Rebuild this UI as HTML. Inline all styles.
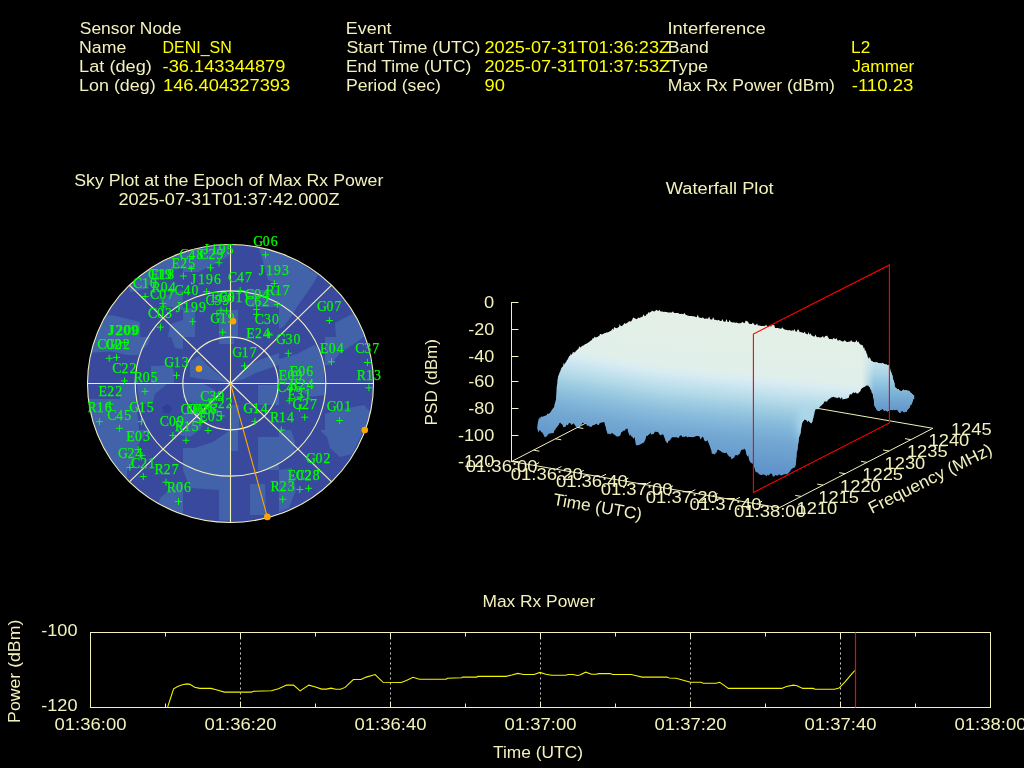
<!DOCTYPE html>
<html><head><meta charset="utf-8"><style>
html,body{margin:0;padding:0;background:#000;width:1024px;height:768px;overflow:hidden}
svg{display:block;will-change:transform}
text{font-family:"Liberation Sans",sans-serif}
.sl{font-family:"Liberation Serif",serif;font-size:13.75px;fill:#00ff00;stroke:#00ff00;stroke-width:0.25px}
</style></head><body>
<svg width="1024" height="768" viewBox="0 0 1024 768">
<rect width="1024" height="768" fill="#000"/>
<ellipse cx="230.5" cy="383.5" rx="143" ry="139" fill="#38499e"/>
<clipPath id="skyclip"><ellipse cx="230.5" cy="383.5" rx="143" ry="139"/></clipPath><g clip-path="url(#skyclip)" fill="#4262aa"><path d="M128,282 140,272 160,258 183,247 183,268 170,271 155,282 142,290 130,292Z"/><path d="M88,318 100,314 116,316 140,322 140,337 88,337Z"/><path d="M158,298 183,290 183,310 165,306Z"/><path d="M170,324 183,320 183,337 168,337Z"/><path d="M183,250 229,246 229,256 213,265 198,272 183,272Z"/><path d="M259,248 263,262 268,280 279,284 279,250Z"/><path d="M219,310 238,310 238,337 219,337Z"/><path d="M183,308 195,308 195,337 183,337Z"/><path d="M243,290 279,290 279,307 250,307Z"/><path d="M279,250 318,275 313,284 297,307 291,317 284,326 279,329Z"/><path d="M352,314 335,323 336,337 372,337 372,310Z"/><path d="M87,337 150,337 148,344 138,355 127,355 111,351.5 87,353Z"/><path d="M171,337 183,337 183,349 175,348Z"/><path d="M151,366 172,365 174,372 174,383 151,383Z"/><path d="M120,384 136,384 136,399 120,399Z"/><path d="M87,399 123,399 136,398 139,430 87,430Z"/><path d="M137,384 167,384 155,394 153,402 140,405Z"/><path d="M190,361 199,356 207,365 222,377 229,383 219,381 201,379 190,377Z"/><path d="M231,383 241,371 256,361 279,353 279,365 256,373 244,379Z"/><path d="M183,384 204,384 213,389 222,397 213,405 195,405 183,398Z"/><path d="M231,405 239,405 239,430 231,430Z"/><path d="M258,385 279,385 279,405 258,405Z"/><path d="M219,337 234,337 234,344 219,344Z"/><path d="M279,359 297,354 314,345 320,349 324,367 324,383 279,383Z"/><path d="M325,337 364,337 354,344 340,353 330,365 325,365Z"/><path d="M302,384 325,384 325,395 310,397 302,392Z"/><path d="M325,414 337,410 364,405 372,414 372,432 325,432Z"/><path d="M176,418 190,410 204,416 201,429 190,437 178,435Z"/><path d="M96,430 148,430 138,445 135,462 127,470 127,479 100,479 88,440Z"/><path d="M160,498 172,488 183,481 183,523 150,523Z"/><path d="M183,448 195,448 213,442 223,435 230,430 230,521 219,520 219,490 190,488 183,470Z"/><path d="M231,430 238,430 238,451 231,451Z"/><path d="M250,484 265,484 266,515 250,515Z"/><path d="M258,437 279,437 279,470 258,470Z"/><path d="M320,430 364,430 352,454 340,457 330,448 327,437Z"/><path d="M279,430 291,430 295,442 294,454 279,462Z"/><path d="M279,470 292,468 296,490 289,508 279,512Z"/><path fill="#303f96" d="M162,407 L168,404 L172,408 L170,413 L164,413Z"/></g>
<ellipse cx="230.5" cy="383.5" rx="47.67" ry="46.33" fill="none" stroke="#f3f1bc" stroke-width="1.1"/>
<ellipse cx="230.5" cy="383.5" rx="95.33" ry="92.67" fill="none" stroke="#f3f1bc" stroke-width="1.1"/>
<ellipse cx="230.5" cy="383.5" rx="143.00" ry="139.00" fill="none" stroke="#f3f1bc" stroke-width="1.1"/>
<line x1="230.5" y1="383.5" x2="373.50" y2="383.50" stroke="#f3f1bc" stroke-width="1.1"/>
<line x1="230.5" y1="383.5" x2="331.62" y2="285.21" stroke="#f3f1bc" stroke-width="1.1"/>
<line x1="230.5" y1="383.5" x2="230.50" y2="244.50" stroke="#f3f1bc" stroke-width="1.1"/>
<line x1="230.5" y1="383.5" x2="129.38" y2="285.21" stroke="#f3f1bc" stroke-width="1.1"/>
<line x1="230.5" y1="383.5" x2="87.50" y2="383.50" stroke="#f3f1bc" stroke-width="1.1"/>
<line x1="230.5" y1="383.5" x2="129.38" y2="481.79" stroke="#f3f1bc" stroke-width="1.1"/>
<line x1="230.5" y1="383.5" x2="230.50" y2="522.50" stroke="#f3f1bc" stroke-width="1.1"/>
<line x1="230.5" y1="383.5" x2="331.62" y2="481.79" stroke="#f3f1bc" stroke-width="1.1"/>
<text x="203.61 210.85 218.85 226.85" y="253.5" class="sl">J195</text>
<text x="179.44 188.58 196.58" y="258.9" class="sl">C48</text>
<text x="199.24 208.38 216.38" y="258.9" class="sl">C29</text>
<text x="171.40 180.17 188.17" y="267.8" class="sl">E25</text>
<text x="147.94 157.08 165.08" y="279.4" class="sl">C19</text>
<text x="150.60 159.37 167.37" y="279.4" class="sl">E18</text>
<text x="190.71 197.95 205.95 213.95" y="283.5" class="sl">J196</text>
<text x="227.94 237.08 245.08" y="281.5" class="sl">C47</text>
<text x="132.94 142.08 150.08" y="287.6" class="sl">C10</text>
<text x="151.60 160.75 168.75" y="292.4" class="sl">R04</text>
<text x="174.44 183.58 191.58" y="295.2" class="sl">C40</text>
<text x="150.04 159.18 167.18" y="298.6" class="sl">C07</text>
<text x="147.94 157.08 165.08" y="318.4" class="sl">C03</text>
<text x="175.71 182.95 190.95 198.95" y="311.6" class="sl">J199</text>
<text x="211.00 219.77 227.77" y="302" class="sl">E60</text>
<text x="218.44 227.58 235.58" y="302" class="sl">C61</text>
<text x="205.44 214.58 222.58" y="305.4" class="sl">C59</text>
<text x="253.24 262.76 270.76" y="245.7" class="sl">G06</text>
<text x="258.71 265.95 273.95 281.95" y="274.7" class="sl">J193</text>
<text x="265.70 274.85 282.85" y="295.2" class="sl">R17</text>
<text x="245.04 254.18 262.18" y="299.3" class="sl">C04</text>
<text x="245.04 254.18 262.18" y="306.1" class="sl">C62</text>
<text x="210.14 219.66 227.66" y="323.4" class="sl">G19</text>
<text x="108.11 115.35 123.35 131.35" y="335.2" class="sl">J209</text>
<text x="109.11 116.35 124.35 132.35" y="335.2" class="sl">J200</text>
<text x="97.34 106.48 114.48" y="349.1" class="sl">C02</text>
<text x="105.44 114.96 122.96" y="349.1" class="sl">G02</text>
<text x="112.24 121.38 129.38" y="372.5" class="sl">C22</text>
<text x="133.70 142.85 150.85" y="382" class="sl">R05</text>
<text x="164.24 173.76 181.76" y="366.6" class="sl">G13</text>
<text x="317.04 326.56 334.56" y="311.2" class="sl">G07</text>
<text x="254.84 263.98 271.98" y="324.4" class="sl">C30</text>
<text x="246.20 254.97 262.97" y="338.3" class="sl">E24</text>
<text x="276.04 285.56 293.56" y="344.2" class="sl">G30</text>
<text x="319.90 328.67 336.67" y="352.7" class="sl">E04</text>
<text x="355.14 364.28 372.28" y="353.3" class="sl">C37</text>
<text x="356.80 365.95 373.95" y="380.1" class="sl">R13</text>
<text x="232.24 241.76 249.76" y="356.6" class="sl">G17</text>
<text x="289.40 298.17 306.17" y="375.7" class="sl">E06</text>
<text x="278.70 287.47 295.47" y="380.3" class="sl">E09</text>
<text x="289.60 298.75 306.75" y="388.7" class="sl">R24</text>
<text x="277.04 286.18 294.18" y="392" class="sl">C46</text>
<text x="287.50 296.27 304.27" y="398.6" class="sl">E31</text>
<text x="292.44 301.96 309.96" y="408.8" class="sl">G27</text>
<text x="243.34 252.86 260.86" y="412.5" class="sl">G14</text>
<text x="269.90 279.05 287.05" y="421.6" class="sl">R14</text>
<text x="326.84 336.36 344.36" y="411.3" class="sl">G01</text>
<text x="305.94 315.46 323.46" y="462.5" class="sl">G02</text>
<text x="287.70 296.47 304.47" y="479.8" class="sl">E02</text>
<text x="295.64 304.78 312.78" y="479.8" class="sl">C28</text>
<text x="270.60 279.75 287.75" y="490.5" class="sl">R23</text>
<text x="98.50 107.27 115.27" y="396.4" class="sl">E22</text>
<text x="87.50 96.65 104.65" y="412.2" class="sl">R16</text>
<text x="129.14 138.66 146.66" y="412.2" class="sl">G15</text>
<text x="107.14 116.28 124.28" y="419.5" class="sl">C45</text>
<text x="200.14 209.28 217.28" y="401.2" class="sl">C39</text>
<text x="208.24 217.76 225.76" y="407.8" class="sl">G22</text>
<text x="180.44 189.58 197.58" y="414" class="sl">C06</text>
<text x="186.44 195.58 203.58" y="414" class="sl">C08</text>
<text x="192.44 201.58 209.58" y="414" class="sl">C26</text>
<text x="198.90 207.67 215.67" y="421" class="sl">E05</text>
<text x="159.84 168.98 176.98" y="426.1" class="sl">C09</text>
<text x="174.70 183.85 191.85" y="431.3" class="sl">R15</text>
<text x="126.30 135.07 143.07" y="441.2" class="sl">E03</text>
<text x="117.94 127.46 135.46" y="458.3" class="sl">G24</text>
<text x="131.04 140.18 148.18" y="467.5" class="sl">C21</text>
<text x="154.60 163.75 171.75" y="473.7" class="sl">R27</text>
<text x="166.80 175.95 183.95" y="492" class="sl">R06</text>
<path d="M215.5 262.8h7M219.0 259.3v7M207.0 267.8h7M210.5 264.3v7M187.8 268.5h7M191.3 265.0v7M179.9 276.0h7M183.4 272.5v7M167.5 290.8h7M171.0 287.3v7M203.1 291.7h7M206.6 288.2v7M141.6 296.5h7M145.1 293.0v7M159.4 303.4h7M162.9 299.9v7M159.7 306.8h7M163.2 303.3v7M262.0 254.8h7M265.5 251.3v7M270.8 283.5h7M274.3 280.0v7M236.7 290.4h7M240.2 286.9v7M273.8 304.7h7M277.3 301.2v7M253.1 309.5h7M256.6 306.0v7M253.1 314.3h7M256.6 310.8v7M217.5 310.2h7M221.0 306.7v7M223.0 310.9h7M226.5 307.4v7M213.4 313.6h7M216.9 310.1v7M156.9 327.1h7M160.4 323.6v7M189.2 321.7h7M192.7 318.2v7M173.0 375.4h7M176.5 371.9v7M219.2 332.2h7M222.7 328.7v7M121.0 342.5h7M124.5 339.0v7M105.7 358.3h7M109.2 354.8v7M113.0 357.4h7M116.5 353.9v7M121.0 380.9h7M124.5 377.4v7M325.9 320.5h7M329.4 317.0v7M265.1 334.0h7M268.6 330.5v7M266.1 335.0h7M269.6 331.5v7M284.8 353.3h7M288.3 349.8v7M328.0 361.8h7M331.5 358.3v7M363.9 362.5h7M367.4 359.0v7M365.4 387.8h7M368.9 384.3v7M241.0 365.9h7M244.5 362.4v7M285.8 400.8h7M289.3 397.3v7M296.1 408.4h7M299.6 404.9v7M301.2 417.2h7M304.7 413.7v7M297.5 397.1h7M301.0 393.6v7M251.4 421.3h7M254.9 417.8v7M277.8 430.0h7M281.3 426.5v7M336.1 420.5h7M339.6 417.0v7M314.3 470.8h7M317.8 467.3v7M296.3 489.5h7M299.8 486.0v7M305.1 488.3h7M308.6 484.8v7M279.2 499.3h7M282.7 495.8v7M141.5 391.4h7M145.0 387.9v7M106.4 404.2h7M109.9 400.7v7M95.9 421.7h7M99.4 418.2v7M115.9 428.3h7M119.4 424.8v7M137.9 421.7h7M141.4 418.2v7M210.4 410.0h7M213.9 406.5v7M217.7 415.9h7M221.2 412.4v7M169.4 435.4h7M172.9 431.9v7M182.6 440.3h7M186.1 436.8v7M204.5 430.5h7M208.0 427.0v7M196.5 422.5h7M200.0 419.0v7M134.7 449.5h7M138.2 446.0v7M138.4 455.4h7M141.9 451.9v7M126.4 467.5h7M129.9 464.0v7M139.8 476.6h7M143.3 473.1v7M162.5 482.2h7M166.0 478.7v7M175.0 501.5h7M178.5 498.0v7" stroke="#00ff00" stroke-width="1" fill="none"/>
<circle cx="290.8" cy="389" r="2.2" fill="#00ff00"/>
<line x1="230.5" y1="383.5" x2="267.3" y2="516.9" stroke="#ffa500" stroke-width="1.1"/>
<circle cx="233" cy="321.2" r="3.3" fill="#ffa500"/>
<circle cx="199" cy="368.8" r="3.3" fill="#ffa500"/>
<circle cx="364.8" cy="430" r="3.3" fill="#ffa500"/>
<circle cx="267.3" cy="516.9" r="3.3" fill="#ffa500"/>
<line x1="511.5" y1="461.5" x2="665.2" y2="382.0" stroke="#f3f1bc" stroke-width="1"/>
<line x1="932.9" y1="428.3" x2="665.2" y2="382.0" stroke="#f3f1bc" stroke-width="1"/>
<line x1="533.5" y1="450.1" x2="539.4" y2="451.2" stroke="#f3f1bc" stroke-width="1"/>
<line x1="801.2" y1="496.4" x2="795.2" y2="495.4" stroke="#f3f1bc" stroke-width="1"/>
<line x1="555.4" y1="438.8" x2="561.3" y2="439.8" stroke="#f3f1bc" stroke-width="1"/>
<line x1="823.1" y1="485.1" x2="817.2" y2="484.1" stroke="#f3f1bc" stroke-width="1"/>
<line x1="577.4" y1="427.4" x2="583.3" y2="428.5" stroke="#f3f1bc" stroke-width="1"/>
<line x1="845.1" y1="473.7" x2="839.2" y2="472.7" stroke="#f3f1bc" stroke-width="1"/>
<line x1="599.3" y1="416.1" x2="605.2" y2="417.1" stroke="#f3f1bc" stroke-width="1"/>
<line x1="867.0" y1="462.4" x2="861.1" y2="461.3" stroke="#f3f1bc" stroke-width="1"/>
<line x1="621.3" y1="404.7" x2="627.2" y2="405.7" stroke="#f3f1bc" stroke-width="1"/>
<line x1="889.0" y1="451.0" x2="883.1" y2="450.0" stroke="#f3f1bc" stroke-width="1"/>
<line x1="643.2" y1="393.4" x2="649.2" y2="394.4" stroke="#f3f1bc" stroke-width="1"/>
<line x1="910.9" y1="439.7" x2="905.0" y2="438.6" stroke="#f3f1bc" stroke-width="1"/>
<line x1="533.8" y1="465.4" x2="539.1" y2="462.6" stroke="#f3f1bc" stroke-width="1"/>
<line x1="556.1" y1="469.2" x2="561.4" y2="466.5" stroke="#f3f1bc" stroke-width="1"/>
<line x1="578.4" y1="473.1" x2="583.8" y2="470.3" stroke="#f3f1bc" stroke-width="1"/>
<line x1="600.7" y1="476.9" x2="606.1" y2="474.2" stroke="#f3f1bc" stroke-width="1"/>
<line x1="623.0" y1="480.8" x2="628.4" y2="478.0" stroke="#f3f1bc" stroke-width="1"/>
<line x1="645.4" y1="484.6" x2="650.7" y2="481.9" stroke="#f3f1bc" stroke-width="1"/>
<line x1="667.7" y1="488.5" x2="673.0" y2="485.8" stroke="#f3f1bc" stroke-width="1"/>
<line x1="690.0" y1="492.4" x2="695.3" y2="489.6" stroke="#f3f1bc" stroke-width="1"/>
<line x1="712.3" y1="496.2" x2="717.6" y2="493.5" stroke="#f3f1bc" stroke-width="1"/>
<line x1="734.6" y1="500.1" x2="739.9" y2="497.3" stroke="#f3f1bc" stroke-width="1"/>
<line x1="756.9" y1="503.9" x2="762.2" y2="501.2" stroke="#f3f1bc" stroke-width="1"/>
<defs><linearGradient id="wb0" gradientUnits="userSpaceOnUse" x1="520.00" y1="286.00" x2="489.19" y2="465.72"><stop offset="0.000" stop-color="#e4f0e6"/><stop offset="0.297" stop-color="#e0efea"/><stop offset="0.335" stop-color="#d8ecf2"/><stop offset="0.378" stop-color="#c8e4f0"/><stop offset="0.432" stop-color="#b4dae8"/><stop offset="0.486" stop-color="#9ecce2"/><stop offset="0.541" stop-color="#8cbedc"/><stop offset="0.595" stop-color="#7eb2d8"/><stop offset="0.649" stop-color="#74a8d2"/><stop offset="0.730" stop-color="#6a9ece"/><stop offset="0.811" stop-color="#6094ca"/><stop offset="0.908" stop-color="#5a8ec6"/><stop offset="1.000" stop-color="#5488c2"/></linearGradient><linearGradient id="wb1" gradientUnits="userSpaceOnUse" x1="660.00" y1="310.00" x2="642.35" y2="493.30"><stop offset="0.000" stop-color="#e4f0e6"/><stop offset="0.297" stop-color="#e0efea"/><stop offset="0.335" stop-color="#d8ecf2"/><stop offset="0.378" stop-color="#c8e4f0"/><stop offset="0.432" stop-color="#b4dae8"/><stop offset="0.486" stop-color="#9ecce2"/><stop offset="0.541" stop-color="#8cbedc"/><stop offset="0.595" stop-color="#7eb2d8"/><stop offset="0.649" stop-color="#74a8d2"/><stop offset="0.730" stop-color="#6a9ece"/><stop offset="0.811" stop-color="#6094ca"/><stop offset="0.908" stop-color="#5a8ec6"/><stop offset="1.000" stop-color="#5488c2"/></linearGradient><linearGradient id="tailg" gradientUnits="userSpaceOnUse" x1="0" y1="355" x2="0" y2="410"><stop offset="0.000" stop-color="#cce8f0"/><stop offset="0.309" stop-color="#aed6e8"/><stop offset="0.564" stop-color="#8cc0de"/><stop offset="0.764" stop-color="#76acd4"/><stop offset="1.000" stop-color="#6498cc"/></linearGradient><linearGradient id="tailm" gradientUnits="userSpaceOnUse" x1="862" y1="0" x2="874" y2="0"><stop offset="0" stop-color="#fff" stop-opacity="0"/><stop offset="1" stop-color="#fff" stop-opacity="1"/></linearGradient><mask id="tailmask"><rect x="850" y="330" width="80" height="100" fill="url(#tailm)"/></mask><clipPath id="wfclip"><path d="M537.3,425.9 537.5,425.9 537.6,424.4 537.8,423.7 538.0,420.7 538.1,421.6 538.3,420.8 539.1,417.3 539.9,418.9 540.7,417.1 541.5,416.6 542.5,416.7 543.6,416.3 544.6,415.9 545.7,415.4 546.7,415.1 547.5,413.4 548.3,414.0 549.2,413.3 550.0,413.0 550.8,411.6 551.3,411.1 551.9,409.7 552.4,409.3 552.9,408.6 553.5,407.8 554.0,407.3 554.3,406.2 554.6,403.4 554.9,404.1 555.1,402.8 555.4,401.2 555.7,400.7 556.0,399.5 556.1,397.4 556.1,397.6 556.2,394.1 556.2,395.3 556.3,394.4 556.4,392.5 556.4,392.1 556.5,391.6 556.5,390.3 556.6,389.3 556.6,388.1 556.7,387.5 556.8,386.1 557.0,385.2 557.1,384.2 557.3,383.3 557.4,381.9 557.5,378.8 557.7,380.0 557.8,377.9 558.0,378.0 558.1,375.8 558.5,375.7 558.9,374.6 559.3,373.5 559.7,371.9 560.1,371.7 560.5,370.4 560.9,369.5 561.3,368.3 561.9,367.3 562.5,366.9 563.2,365.7 563.8,362.6 564.4,364.4 565.0,363.4 565.6,362.4 566.2,361.7 566.7,360.4 567.3,359.9 567.9,358.7 568.5,357.8 569.2,355.9 570.0,356.0 570.8,353.5 571.5,354.9 572.2,354.0 573.0,351.8 573.8,352.6 574.5,352.4 575.3,351.7 576.1,351.0 576.9,350.1 577.7,349.3 578.4,348.9 579.2,346.0 580.0,347.6 580.9,347.2 581.8,346.2 582.8,345.6 583.7,345.5 584.6,344.6 585.5,344.1 586.5,343.8 587.4,343.1 588.3,342.5 589.2,342.0 590.1,341.1 591.0,340.6 591.9,340.0 592.8,338.0 593.7,338.6 594.6,336.5 595.5,337.6 596.4,337.2 597.4,336.9 598.3,336.2 599.2,336.0 600.1,334.1 601.1,333.9 602.0,334.7 602.9,333.8 603.8,333.8 604.8,333.1 605.7,333.1 606.7,332.3 607.6,332.5 608.6,332.0 609.5,331.6 610.5,330.9 611.4,330.6 612.4,328.6 613.3,330.0 614.2,326.9 615.2,327.8 616.1,328.3 617.0,327.9 618.0,327.5 618.9,326.9 619.8,323.9 620.8,326.3 621.7,325.9 622.6,325.4 623.5,324.4 624.5,323.0 625.4,323.8 626.3,323.5 627.2,322.7 628.2,322.3 629.1,321.0 630.0,321.4 631.0,321.4 632.1,320.0 633.1,317.5 634.1,318.0 635.2,318.6 636.2,319.3 637.3,318.7 638.3,317.4 639.3,318.1 640.4,317.6 641.5,317.1 642.5,316.8 643.5,314.2 644.6,316.3 645.7,315.7 646.7,314.1 647.5,314.3 648.3,312.1 649.1,313.0 649.9,312.3 651.0,312.1 652.0,310.4 653.1,311.2 654.1,311.5 655.2,311.0 656.2,309.8 657.3,310.5 658.4,310.9 659.4,309.8 660.5,311.4 661.5,311.5 662.6,311.4 663.6,312.1 664.7,311.7 665.7,312.0 666.8,311.9 667.8,312.6 668.8,312.4 669.9,312.4 670.9,312.5 671.9,312.6 673.0,311.3 674.0,313.0 675.0,312.9 676.1,313.1 677.1,313.0 678.1,313.1 679.2,313.7 680.2,313.9 681.2,313.8 682.3,314.0 683.3,314.3 684.3,312.8 685.4,314.6 686.4,315.1 687.4,315.4 688.5,315.8 689.5,315.9 690.5,316.1 691.6,316.0 692.6,316.3 693.6,316.3 694.7,316.6 695.7,317.1 696.7,317.2 697.8,314.5 698.8,317.6 699.8,317.5 700.9,317.9 701.9,318.0 702.9,317.2 704.0,318.4 705.0,318.9 706.0,318.2 707.0,318.7 708.0,318.8 709.1,316.5 710.1,319.3 711.1,319.6 712.2,319.6 713.2,317.0 714.2,319.8 715.2,319.8 716.3,320.1 717.3,320.6 718.3,319.8 719.4,320.6 720.4,320.9 721.4,321.0 722.5,318.9 723.5,321.5 724.5,321.7 725.6,321.4 726.6,319.1 727.6,322.0 728.7,321.9 729.7,319.8 730.7,322.1 731.8,322.3 732.8,322.4 733.8,322.3 734.9,322.7 735.9,322.7 736.9,322.6 738.0,323.3 739.0,323.2 740.1,323.2 741.3,323.1 742.4,321.8 743.5,322.8 744.6,323.3 745.8,320.6 746.9,321.2 747.9,321.6 748.9,323.4 749.9,323.9 750.9,323.9 751.9,324.1 752.9,322.5 754.0,324.3 755.0,324.9 756.0,324.8 757.0,323.4 758.0,325.4 759.0,325.4 760.0,325.4 761.0,326.0 762.0,326.0 763.0,325.9 764.0,325.8 765.0,326.2 766.0,324.6 767.0,326.3 768.0,326.5 769.0,326.4 770.0,324.9 771.0,326.9 772.0,324.4 773.0,325.3 774.1,324.8 775.1,328.0 776.1,328.1 777.1,328.1 778.1,328.0 779.1,328.5 780.1,328.4 781.1,329.0 782.2,327.3 783.2,328.4 784.2,329.3 785.2,329.8 786.2,329.7 787.3,330.3 788.3,330.3 789.3,330.1 790.4,330.4 791.4,330.7 792.4,330.2 793.5,330.8 794.5,329.1 795.6,331.6 796.6,331.8 797.6,329.5 798.7,329.7 799.7,332.3 800.7,332.0 801.8,332.3 802.8,332.8 803.8,332.9 804.8,331.5 805.7,333.8 806.7,333.9 807.7,334.4 808.6,332.0 809.6,334.8 810.6,333.2 811.6,335.4 812.5,335.8 813.5,336.4 814.5,336.5 815.6,334.4 816.6,336.9 817.7,337.2 818.7,337.1 819.8,337.5 820.8,337.5 821.9,337.1 822.9,336.0 824.0,338.1 825.0,336.3 826.1,336.1 827.1,335.6 828.2,337.5 829.2,338.9 830.3,338.9 831.3,339.1 832.4,339.4 833.4,337.9 834.4,338.6 835.5,339.2 836.5,338.0 837.6,340.4 838.6,340.4 839.6,340.0 840.7,340.6 841.7,341.3 842.8,341.5 843.8,341.2 844.9,340.1 845.9,341.4 847.0,341.9 848.0,341.9 849.1,341.5 850.1,341.8 851.2,340.0 852.2,341.7 853.3,341.8 854.3,342.3 855.4,342.1 856.4,340.0 857.5,342.2 858.5,341.6 859.4,343.4 860.4,344.4 861.3,344.8 862.3,345.5 862.8,345.1 863.3,347.2 863.8,348.4 864.3,347.4 864.8,350.4 865.3,350.3 865.7,351.1 866.1,351.6 866.5,354.0 867.0,353.5 867.4,356.3 867.8,356.9 868.2,358.1 869.0,358.9 869.8,357.0 870.7,359.9 871.5,360.9 872.3,361.2 873.1,362.1 874.1,362.2 875.1,362.2 876.0,362.4 877.0,362.3 878.0,363.1 879.0,363.2 880.0,363.2 880.9,363.6 881.9,363.6 882.9,362.7 883.9,364.2 884.8,363.9 885.8,364.7 886.8,364.5 887.7,365.6 888.7,364.8 889.0,366.8 889.4,368.0 889.7,369.0 890.0,368.2 890.4,370.7 890.7,371.6 891.0,371.8 891.3,372.7 891.7,374.4 892.0,375.4 892.3,374.7 892.6,377.3 892.8,378.4 893.0,379.8 893.3,379.6 893.5,381.5 893.7,379.8 893.9,383.6 894.2,382.0 894.4,383.0 894.6,386.4 895.2,387.4 895.9,387.7 896.5,388.6 897.2,389.6 897.9,389.3 898.5,389.1 899.7,390.8 900.9,391.0 902.0,390.9 903.2,389.5 904.4,390.6 905.6,390.3 906.8,390.5 908.0,390.7 909.2,391.0 910.0,392.1 910.8,392.9 911.7,393.6 912.5,394.5 913.3,395.0 914.1,395.3 914.1,399.1 913.5,399.0 912.8,400.0 912.2,402.6 911.5,404.4 910.9,404.3 910.2,405.5 909.2,408.0 908.2,408.7 907.3,409.9 906.3,411.9 905.1,412.1 903.9,412.2 902.8,411.2 901.6,410.7 900.4,412.7 899.2,412.4 898.1,410.8 896.9,409.6 895.8,409.4 894.6,410.2 893.4,409.3 892.2,410.2 891.1,409.7 889.9,410.2 888.7,410.8 887.5,411.4 886.4,410.7 885.2,410.3 884.1,410.7 882.9,409.0 881.7,409.2 880.5,409.9 879.2,410.9 878.0,410.9 877.2,410.0 876.5,409.4 875.8,407.8 875.0,406.8 874.8,406.3 874.5,405.7 874.3,403.5 874.0,402.1 873.8,398.6 873.6,398.6 873.3,397.0 873.1,396.3 872.8,394.0 872.4,392.9 872.1,392.5 871.8,392.7 871.4,390.1 871.1,390.1 870.4,388.9 869.7,387.0 868.9,386.6 868.2,385.2 867.2,385.5 866.3,385.5 865.3,386.3 864.5,386.9 863.6,387.3 862.8,387.8 861.9,388.3 861.1,389.3 860.2,391.4 859.4,391.9 858.1,393.6 856.8,393.6 855.5,392.2 854.5,393.2 853.5,392.3 852.6,393.0 851.6,394.5 850.6,394.3 849.7,394.5 848.7,397.7 847.7,398.2 846.7,398.5 845.7,398.8 844.8,399.0 843.8,399.1 842.8,399.7 841.8,397.1 840.8,399.1 839.9,398.1 838.9,397.0 837.9,397.9 836.9,398.3 836.0,397.2 835.0,397.8 834.0,396.8 833.0,396.9 832.1,397.2 831.1,397.6 830.1,398.5 829.2,399.0 828.2,399.7 827.2,401.3 826.2,401.7 825.2,401.4 824.3,401.5 823.3,403.9 822.3,404.4 821.5,405.5 820.6,406.1 819.8,407.0 818.9,408.2 818.1,408.9 817.2,409.4 816.4,409.1 815.8,409.1 815.1,410.6 814.5,412.4 814.2,414.5 814.0,415.5 813.8,415.5 813.5,417.2 813.2,418.9 813.0,418.0 812.8,419.9 812.5,421.6 811.2,423.6 809.9,422.2 808.6,420.6 807.6,422.0 806.7,420.3 805.7,419.9 804.7,419.3 804.0,420.3 803.2,421.2 802.5,422.2 801.8,424.3 801.6,425.8 801.4,427.3 801.2,427.9 800.9,430.6 800.7,432.2 800.5,434.4 800.3,433.5 800.1,434.9 799.9,434.5 799.7,435.8 799.4,437.0 799.2,436.7 799.0,437.8 798.8,440.2 798.7,441.8 798.5,443.6 798.4,443.6 798.3,443.8 798.2,443.5 798.0,444.7 797.9,447.2 797.8,448.7 797.7,449.8 797.5,449.5 797.4,451.0 797.3,451.8 797.2,450.5 797.0,451.5 796.9,452.5 796.8,453.6 796.7,456.7 796.6,457.8 796.5,457.6 796.3,458.1 796.2,461.1 796.1,461.1 796.0,463.1 795.9,464.7 794.9,466.9 793.9,467.9 793.0,467.8 792.0,468.9 791.0,469.4 790.2,471.3 789.4,472.0 788.7,472.9 787.9,473.6 787.1,474.4 785.9,473.9 784.8,474.2 783.6,474.5 782.5,474.9 781.3,475.4 780.1,475.0 778.9,474.2 777.8,475.7 776.6,475.6 775.4,475.0 774.2,476.5 773.0,476.8 771.9,473.8 770.7,473.6 769.5,474.7 768.5,475.5 767.5,474.7 766.6,476.3 765.6,475.2 764.6,474.7 763.7,474.6 762.7,474.4 761.7,475.1 760.7,474.9 759.8,474.4 758.8,473.9 757.8,472.7 756.9,471.9 755.9,472.4 755.5,471.5 755.1,470.5 754.8,469.0 754.4,467.8 754.0,466.7 753.6,466.0 753.3,464.6 752.9,463.7 752.0,463.6 751.0,462.8 750.1,461.9 749.6,461.1 749.2,460.1 748.7,458.0 748.3,455.3 747.8,456.3 747.4,456.6 746.9,455.6 746.5,454.8 746.0,452.8 745.6,450.3 745.1,449.8 744.1,448.5 743.1,450.0 742.0,449.6 741.0,450.4 740.0,453.2 739.0,454.6 738.2,454.8 737.3,455.7 736.5,455.0 735.7,454.9 734.8,456.0 734.0,457.9 733.2,457.8 732.3,459.0 731.5,459.6 730.8,457.2 730.1,456.2 729.4,456.9 728.7,455.9 728.0,455.1 727.3,454.2 726.6,452.5 725.6,453.1 724.5,452.9 723.5,452.7 722.5,452.5 721.4,451.7 720.4,450.9 719.5,450.4 718.7,449.9 717.8,449.5 716.9,451.2 716.0,453.5 715.2,453.2 714.3,454.7 713.4,453.7 712.6,453.9 711.7,453.2 711.3,450.3 710.9,449.5 710.6,448.6 710.2,447.2 709.8,446.0 709.4,445.1 709.1,444.1 708.7,443.2 708.3,442.5 707.9,441.3 707.6,440.6 707.2,440.3 706.8,440.8 705.9,441.6 705.0,441.3 704.1,439.9 703.3,437.2 702.4,436.7 701.5,437.9 700.6,439.4 699.5,436.6 698.5,436.0 697.4,435.9 696.3,435.9 695.2,436.5 694.1,436.9 693.1,436.9 692.0,437.2 690.9,437.0 689.8,436.9 688.7,436.7 687.6,437.6 686.6,436.4 685.5,436.2 684.4,437.0 683.3,436.8 682.4,437.1 681.5,435.6 680.6,435.4 679.8,435.8 678.9,437.8 678.0,437.9 677.1,437.2 675.9,437.2 674.7,437.2 673.4,437.2 672.2,437.2 671.5,438.1 670.8,439.0 670.1,439.9 669.3,440.8 668.6,440.7 667.9,442.6 667.2,443.4 666.6,442.5 666.0,441.5 665.4,440.7 664.8,438.4 664.1,436.7 663.5,434.9 662.9,434.3 662.3,434.5 661.2,435.1 660.2,435.2 659.1,434.1 658.0,431.7 656.9,431.9 655.9,431.7 654.8,431.8 653.6,433.9 652.3,434.2 651.1,434.4 650.4,432.4 649.7,434.0 649.0,434.8 648.3,434.7 647.7,436.1 647.0,435.7 646.3,435.9 645.6,439.1 644.9,440.8 643.9,442.5 642.9,443.1 642.0,443.6 641.0,444.1 640.0,444.6 638.8,444.9 637.5,445.2 636.2,445.2 635.7,443.9 635.1,440.1 634.5,437.0 633.9,437.9 633.3,438.9 632.7,437.5 632.1,436.5 631.3,436.5 630.5,434.6 629.7,436.0 629.0,434.0 628.2,432.3 627.4,428.3 626.6,429.3 625.8,428.6 624.9,431.1 624.0,430.3 623.0,431.2 622.1,431.8 621.2,432.5 620.3,435.5 619.3,436.1 618.4,436.6 617.5,436.6 616.7,436.4 615.8,435.8 615.0,435.2 614.1,434.6 613.3,433.9 612.3,433.1 611.2,433.6 610.2,434.6 609.1,433.6 608.1,433.9 607.5,434.0 606.9,431.4 606.3,430.3 605.8,427.3 605.2,425.7 604.6,423.1 604.0,422.1 603.0,422.3 601.9,422.5 600.9,422.7 599.8,422.9 598.8,425.0 597.7,424.9 596.7,423.8 595.8,424.0 594.9,424.8 594.0,424.9 593.1,425.3 592.2,425.8 591.3,426.9 590.4,426.7 589.7,426.5 588.9,426.2 588.2,425.3 587.4,426.0 586.7,425.3 585.9,423.1 585.2,422.7 584.2,422.9 583.1,422.8 582.1,423.1 581.0,425.9 580.0,426.2 578.9,426.8 577.9,426.5 576.9,427.2 575.8,426.6 574.8,425.1 573.8,423.2 572.7,424.0 571.6,425.1 570.6,423.4 569.5,422.7 568.5,423.7 567.8,425.6 567.0,424.8 566.3,425.1 565.5,426.8 564.8,426.9 564.0,427.1 563.3,427.2 562.5,424.8 561.8,424.1 561.0,423.7 560.2,422.5 559.4,423.2 558.5,425.2 557.7,426.1 556.8,427.8 556.0,427.8 555.2,430.2 554.5,430.0 553.7,433.1 552.9,433.3 552.3,433.3 551.7,433.0 551.0,433.4 550.4,433.6 549.8,433.6 548.8,433.7 547.7,435.1 546.6,436.6 545.6,436.8 544.7,437.5 543.9,435.6 543.0,433.7 542.1,432.2 541.3,432.2 540.4,430.8 539.9,429.9 539.4,430.6 538.8,431.8 538.3,432.5 537.8,429.9 537.3,429.0Z"/></clipPath><filter id="bl4" x="-50%" y="-50%" width="200%" height="200%"><feGaussianBlur stdDeviation="4"/></filter></defs><g clip-path="url(#wfclip)"><rect x="520" y="300" width="140" height="185" fill="url(#wb0)" shape-rendering="crispEdges"/><rect x="660" y="300" width="270" height="185" fill="url(#wb1)" shape-rendering="crispEdges"/><rect x="850" y="330" width="80" height="100" fill="url(#tailg)" mask="url(#tailmask)"/><ellipse cx="806" cy="424" rx="9" ry="20" fill="#b4dcec" opacity="0.75" filter="url(#bl4)"/></g>
<line x1="511.5" y1="461.5" x2="779.2" y2="507.8" stroke="#f3f1bc" stroke-width="1"/>
<line x1="779.2" y1="507.8" x2="932.9" y2="428.3" stroke="#f3f1bc" stroke-width="1"/>
<line x1="511.5" y1="302.0" x2="511.5" y2="461.5" stroke="#f3f1bc" stroke-width="1"/>
<line x1="511.5" y1="302.5" x2="518.5" y2="302.5" stroke="#f3f1bc" stroke-width="1"/>
<line x1="511.5" y1="329.5" x2="518.5" y2="329.5" stroke="#f3f1bc" stroke-width="1"/>
<line x1="511.5" y1="356.5" x2="518.5" y2="356.5" stroke="#f3f1bc" stroke-width="1"/>
<line x1="511.5" y1="381.5" x2="518.5" y2="381.5" stroke="#f3f1bc" stroke-width="1"/>
<line x1="511.5" y1="408.5" x2="518.5" y2="408.5" stroke="#f3f1bc" stroke-width="1"/>
<line x1="511.5" y1="435.5" x2="518.5" y2="435.5" stroke="#f3f1bc" stroke-width="1"/>
<line x1="511.5" y1="461.5" x2="518.5" y2="461.5" stroke="#f3f1bc" stroke-width="1"/>
<path d="M753.4,492.6 L753.4,334 L889.4,265 L889.4,423 Z" fill="none" stroke="#ff0000" stroke-width="1.1"/>
<rect x="90.5" y="632.5" width="900.0" height="75.0" fill="none" stroke="#f3f1bc" stroke-width="1"/>
<line x1="165.5" y1="632.5" x2="165.5" y2="636.5" stroke="#f3f1bc" stroke-width="1"/>
<line x1="165.5" y1="707.5" x2="165.5" y2="703.5" stroke="#f3f1bc" stroke-width="1"/>
<line x1="240.5" y1="632.5" x2="240.5" y2="707.5" stroke="#c8c8c8" stroke-width="1" stroke-dasharray="2,3"/>
<line x1="240.5" y1="632.5" x2="240.5" y2="638.5" stroke="#f3f1bc" stroke-width="1"/>
<line x1="240.5" y1="707.5" x2="240.5" y2="701.5" stroke="#f3f1bc" stroke-width="1"/>
<line x1="315.5" y1="632.5" x2="315.5" y2="636.5" stroke="#f3f1bc" stroke-width="1"/>
<line x1="315.5" y1="707.5" x2="315.5" y2="703.5" stroke="#f3f1bc" stroke-width="1"/>
<line x1="390.5" y1="632.5" x2="390.5" y2="707.5" stroke="#c8c8c8" stroke-width="1" stroke-dasharray="2,3"/>
<line x1="390.5" y1="632.5" x2="390.5" y2="638.5" stroke="#f3f1bc" stroke-width="1"/>
<line x1="390.5" y1="707.5" x2="390.5" y2="701.5" stroke="#f3f1bc" stroke-width="1"/>
<line x1="465.5" y1="632.5" x2="465.5" y2="636.5" stroke="#f3f1bc" stroke-width="1"/>
<line x1="465.5" y1="707.5" x2="465.5" y2="703.5" stroke="#f3f1bc" stroke-width="1"/>
<line x1="540.5" y1="632.5" x2="540.5" y2="707.5" stroke="#c8c8c8" stroke-width="1" stroke-dasharray="2,3"/>
<line x1="540.5" y1="632.5" x2="540.5" y2="638.5" stroke="#f3f1bc" stroke-width="1"/>
<line x1="540.5" y1="707.5" x2="540.5" y2="701.5" stroke="#f3f1bc" stroke-width="1"/>
<line x1="615.5" y1="632.5" x2="615.5" y2="636.5" stroke="#f3f1bc" stroke-width="1"/>
<line x1="615.5" y1="707.5" x2="615.5" y2="703.5" stroke="#f3f1bc" stroke-width="1"/>
<line x1="690.5" y1="632.5" x2="690.5" y2="707.5" stroke="#c8c8c8" stroke-width="1" stroke-dasharray="2,3"/>
<line x1="690.5" y1="632.5" x2="690.5" y2="638.5" stroke="#f3f1bc" stroke-width="1"/>
<line x1="690.5" y1="707.5" x2="690.5" y2="701.5" stroke="#f3f1bc" stroke-width="1"/>
<line x1="765.5" y1="632.5" x2="765.5" y2="636.5" stroke="#f3f1bc" stroke-width="1"/>
<line x1="765.5" y1="707.5" x2="765.5" y2="703.5" stroke="#f3f1bc" stroke-width="1"/>
<line x1="840.5" y1="632.5" x2="840.5" y2="707.5" stroke="#c8c8c8" stroke-width="1" stroke-dasharray="2,3"/>
<line x1="840.5" y1="632.5" x2="840.5" y2="638.5" stroke="#f3f1bc" stroke-width="1"/>
<line x1="840.5" y1="707.5" x2="840.5" y2="701.5" stroke="#f3f1bc" stroke-width="1"/>
<line x1="915.5" y1="632.5" x2="915.5" y2="636.5" stroke="#f3f1bc" stroke-width="1"/>
<line x1="915.5" y1="707.5" x2="915.5" y2="703.5" stroke="#f3f1bc" stroke-width="1"/>
<polyline fill="none" stroke="#f4f400" stroke-width="1.1" points="167.7,706.9 173.6,688.8 177.6,686.5 182.3,684.8 187.0,683.9 190.0,684.4 194.7,687.2 199.8,688.4 211.0,688.4 216.2,689.8 224.4,692.1 251.4,692.1 253.7,691.2 271.3,690.7 278.4,688.8 286.6,685.1 293.6,685.1 300.1,690.9 308.8,685.1 314.7,686.7 321.7,689.1 326.4,689.1 331.1,688.1 335.8,689.3 340.5,689.3 345.1,687.4 353.3,679.5 361.1,679.5 366.2,677.1 375.1,674.5 383.1,682.3 401.2,682.5 406.4,680.6 413.0,677.3 419.3,679.2 446.2,679.2 447.4,678.3 461.5,677.8 462.7,677.1 476.7,677.1 477.9,676.4 506.0,676.4 511.9,675.0 517.7,673.4 523.6,674.5 534.1,674.5 540.0,672.4 545.8,674.3 551.7,675.2 565.8,675.2 568.1,674.5 572.8,674.5 577.5,675.5 579.8,675.0 585.7,672.2 591.6,674.3 596.2,674.3 598.6,673.6 610.3,673.6 612.6,674.5 631.2,674.5 636.4,675.7 642.3,677.1 666.9,677.1 669.2,678.0 676.2,678.3 683.3,680.2 690.3,682.3 700.9,682.3 703.2,683.2 716.1,683.2 719.6,682.3 723.1,684.6 728.3,688.4 781.7,688.4 786.4,686.5 793.4,685.1 796.9,685.8 802.8,688.4 813.3,688.4 815.0,689.3 834.4,689.3 839.1,688.1 845.0,681.8 852.0,673.6 854.8,670.5"/>
<line x1="855.5" y1="632.5" x2="855.5" y2="707.5" stroke="#ff0000" stroke-width="1.2"/>
<text x="79.8" y="34.0" fill="#f3f1bc" text-anchor="start" font-size="16.9" textLength="101.7" lengthAdjust="spacingAndGlyphs">Sensor Node</text>
<text x="79.1" y="53.0" fill="#f3f1bc" text-anchor="start" font-size="16.9" textLength="47.2" lengthAdjust="spacingAndGlyphs">Name</text>
<text x="162.6" y="53.0" fill="#ffff00" text-anchor="start" font-size="16.9" textLength="69.2" lengthAdjust="spacingAndGlyphs">DENI_SN</text>
<text x="79.1" y="72.0" fill="#f3f1bc" text-anchor="start" font-size="16.9" textLength="72.7" lengthAdjust="spacingAndGlyphs">Lat (deg)</text>
<text x="162.6" y="72.0" fill="#ffff00" text-anchor="start" font-size="16.9" textLength="122.8" lengthAdjust="spacingAndGlyphs">-36.143344879</text>
<text x="79.1" y="91.0" fill="#f3f1bc" text-anchor="start" font-size="16.9" textLength="76.6" lengthAdjust="spacingAndGlyphs">Lon (deg)</text>
<text x="163.0" y="91.0" fill="#ffff00" text-anchor="start" font-size="16.9" textLength="127.2" lengthAdjust="spacingAndGlyphs">146.404327393</text>
<text x="345.8" y="34.0" fill="#f3f1bc" text-anchor="start" font-size="16.9" textLength="45.8" lengthAdjust="spacingAndGlyphs">Event</text>
<text x="346.5" y="53.0" fill="#f3f1bc" text-anchor="start" font-size="16.9" textLength="134.0" lengthAdjust="spacingAndGlyphs">Start Time (UTC)</text>
<text x="484.5" y="53.0" fill="#ffff00" text-anchor="start" font-size="16.9" textLength="185.6" lengthAdjust="spacingAndGlyphs">2025-07-31T01:36:23Z</text>
<text x="345.9" y="72.0" fill="#f3f1bc" text-anchor="start" font-size="16.9" textLength="125.4" lengthAdjust="spacingAndGlyphs">End Time (UTC)</text>
<text x="484.5" y="72.0" fill="#ffff00" text-anchor="start" font-size="16.9" textLength="185.6" lengthAdjust="spacingAndGlyphs">2025-07-31T01:37:53Z</text>
<text x="345.9" y="91.0" fill="#f3f1bc" text-anchor="start" font-size="16.9" textLength="95.0" lengthAdjust="spacingAndGlyphs">Period (sec)</text>
<text x="484.5" y="91.0" fill="#ffff00" text-anchor="start" font-size="16.9" textLength="20.4" lengthAdjust="spacingAndGlyphs">90</text>
<text x="667.5" y="34.0" fill="#f3f1bc" text-anchor="start" font-size="16.9" textLength="98.2" lengthAdjust="spacingAndGlyphs">Interference</text>
<text x="667.8" y="53.0" fill="#f3f1bc" text-anchor="start" font-size="16.9" textLength="41.1" lengthAdjust="spacingAndGlyphs">Band</text>
<text x="851.1" y="53.0" fill="#ffff00" text-anchor="start" font-size="16.9" textLength="19.1" lengthAdjust="spacingAndGlyphs">L2</text>
<text x="668.8" y="72.0" fill="#f3f1bc" text-anchor="start" font-size="16.9" textLength="39.2" lengthAdjust="spacingAndGlyphs">Type</text>
<text x="852.2" y="72.0" fill="#ffff00" text-anchor="start" font-size="16.9" textLength="62.1" lengthAdjust="spacingAndGlyphs">Jammer</text>
<text x="667.8" y="91.0" fill="#f3f1bc" text-anchor="start" font-size="16.9" textLength="167.1" lengthAdjust="spacingAndGlyphs">Max Rx Power (dBm)</text>
<text x="851.7" y="91.0" fill="#ffff00" text-anchor="start" font-size="16.9" textLength="61.8" lengthAdjust="spacingAndGlyphs">-110.23</text>
<text x="228.8" y="186.0" fill="#f3f1bc" text-anchor="middle" font-size="16.9" textLength="309.1" lengthAdjust="spacingAndGlyphs">Sky Plot at the Epoch of Max Rx Power</text>
<text x="229.0" y="205.0" fill="#f3f1bc" text-anchor="middle" font-size="16.9" textLength="221.2" lengthAdjust="spacingAndGlyphs">2025-07-31T01:37:42.000Z</text>
<text x="719.7" y="194.0" fill="#f3f1bc" text-anchor="middle" font-size="16.9" textLength="107.9" lengthAdjust="spacingAndGlyphs">Waterfall Plot</text>
<text x="538.9" y="606.5" fill="#f3f1bc" text-anchor="middle" font-size="16.9" textLength="112.8" lengthAdjust="spacingAndGlyphs">Max Rx Power</text>
<text x="494.3" y="308.1" fill="#f3f1bc" text-anchor="end" font-size="16.9" textLength="10.2" lengthAdjust="spacingAndGlyphs">0</text>
<text x="494.3" y="335.1" fill="#f3f1bc" text-anchor="end" font-size="16.9" textLength="26.1" lengthAdjust="spacingAndGlyphs">-20</text>
<text x="494.3" y="362.1" fill="#f3f1bc" text-anchor="end" font-size="16.9" textLength="26.1" lengthAdjust="spacingAndGlyphs">-40</text>
<text x="494.3" y="387.1" fill="#f3f1bc" text-anchor="end" font-size="16.9" textLength="26.1" lengthAdjust="spacingAndGlyphs">-60</text>
<text x="494.3" y="414.1" fill="#f3f1bc" text-anchor="end" font-size="16.9" textLength="26.1" lengthAdjust="spacingAndGlyphs">-80</text>
<text x="494.3" y="441.1" fill="#f3f1bc" text-anchor="end" font-size="16.9" textLength="36.3" lengthAdjust="spacingAndGlyphs">-100</text>
<text x="494.3" y="467.1" fill="#f3f1bc" text-anchor="end" font-size="16.9" textLength="36.3" lengthAdjust="spacingAndGlyphs">-120</text>
<text x="465.7" y="472.0" fill="#f3f1bc" text-anchor="start" font-size="16.9" textLength="71.9" lengthAdjust="spacingAndGlyphs">01:36:00</text>
<text x="510.8" y="479.9" fill="#f3f1bc" text-anchor="start" font-size="16.9" textLength="71.9" lengthAdjust="spacingAndGlyphs">01:36:20</text>
<text x="555.9" y="487.4" fill="#f3f1bc" text-anchor="start" font-size="16.9" textLength="71.9" lengthAdjust="spacingAndGlyphs">01:36:40</text>
<text x="600.7" y="495.3" fill="#f3f1bc" text-anchor="start" font-size="16.9" textLength="71.9" lengthAdjust="spacingAndGlyphs">01:37:00</text>
<text x="645.8" y="503.1" fill="#f3f1bc" text-anchor="start" font-size="16.9" textLength="71.9" lengthAdjust="spacingAndGlyphs">01:37:20</text>
<text x="689.6" y="510.0" fill="#f3f1bc" text-anchor="start" font-size="16.9" textLength="71.9" lengthAdjust="spacingAndGlyphs">01:37:40</text>
<text x="734.0" y="517.3" fill="#f3f1bc" text-anchor="start" font-size="16.9" textLength="71.9" lengthAdjust="spacingAndGlyphs">01:38:00</text>
<text x="796.6" y="514.3" fill="#f3f1bc" text-anchor="start" font-size="16.9" textLength="40.7" lengthAdjust="spacingAndGlyphs">1210</text>
<text x="818.3" y="503.3" fill="#f3f1bc" text-anchor="start" font-size="16.9" textLength="40.7" lengthAdjust="spacingAndGlyphs">1215</text>
<text x="840.1" y="492.0" fill="#f3f1bc" text-anchor="start" font-size="16.9" textLength="40.7" lengthAdjust="spacingAndGlyphs">1220</text>
<text x="862.3" y="480.3" fill="#f3f1bc" text-anchor="start" font-size="16.9" textLength="40.7" lengthAdjust="spacingAndGlyphs">1225</text>
<text x="884.6" y="468.6" fill="#f3f1bc" text-anchor="start" font-size="16.9" textLength="40.7" lengthAdjust="spacingAndGlyphs">1230</text>
<text x="906.9" y="456.9" fill="#f3f1bc" text-anchor="start" font-size="16.9" textLength="40.7" lengthAdjust="spacingAndGlyphs">1235</text>
<text x="928.6" y="446.3" fill="#f3f1bc" text-anchor="start" font-size="16.9" textLength="40.7" lengthAdjust="spacingAndGlyphs">1240</text>
<text x="950.9" y="434.6" fill="#f3f1bc" text-anchor="start" font-size="16.9" textLength="40.7" lengthAdjust="spacingAndGlyphs">1245</text>
<text x="596.7" y="512.4" fill="#f3f1bc" text-anchor="middle" font-size="16.9" textLength="89.9" lengthAdjust="spacingAndGlyphs" transform="rotate(9.7 596.7 512.4)">Time (UTC)</text>
<text x="932.7" y="483.7" fill="#f3f1bc" text-anchor="middle" font-size="16.9" textLength="136.0" lengthAdjust="spacingAndGlyphs" transform="rotate(-26.5 932.7 483.7)">Frequency (MHz)</text>
<text x="436.8" y="382.2" fill="#f3f1bc" text-anchor="middle" font-size="16.9" textLength="86.4" lengthAdjust="spacingAndGlyphs" transform="rotate(-90 436.8 382.2)">PSD (dBm)</text>
<text x="90.5" y="729.5" fill="#f3f1bc" text-anchor="middle" font-size="16.9" textLength="71.9" lengthAdjust="spacingAndGlyphs">01:36:00</text>
<text x="240.5" y="729.5" fill="#f3f1bc" text-anchor="middle" font-size="16.9" textLength="71.9" lengthAdjust="spacingAndGlyphs">01:36:20</text>
<text x="390.5" y="729.5" fill="#f3f1bc" text-anchor="middle" font-size="16.9" textLength="71.9" lengthAdjust="spacingAndGlyphs">01:36:40</text>
<text x="540.5" y="729.5" fill="#f3f1bc" text-anchor="middle" font-size="16.9" textLength="71.9" lengthAdjust="spacingAndGlyphs">01:37:00</text>
<text x="690.5" y="729.5" fill="#f3f1bc" text-anchor="middle" font-size="16.9" textLength="71.9" lengthAdjust="spacingAndGlyphs">01:37:20</text>
<text x="840.5" y="729.5" fill="#f3f1bc" text-anchor="middle" font-size="16.9" textLength="71.9" lengthAdjust="spacingAndGlyphs">01:37:40</text>
<text x="990.5" y="729.5" fill="#f3f1bc" text-anchor="middle" font-size="16.9" textLength="71.9" lengthAdjust="spacingAndGlyphs">01:38:00</text>
<text x="77.5" y="636.0" fill="#f3f1bc" text-anchor="end" font-size="16.9" textLength="36.3" lengthAdjust="spacingAndGlyphs">-100</text>
<text x="77.5" y="711.0" fill="#f3f1bc" text-anchor="end" font-size="16.9" textLength="36.3" lengthAdjust="spacingAndGlyphs">-120</text>
<text x="538.0" y="757.5" fill="#f3f1bc" text-anchor="middle" font-size="16.9" textLength="89.9" lengthAdjust="spacingAndGlyphs">Time (UTC)</text>
<text x="20.0" y="671.3" fill="#f3f1bc" text-anchor="middle" font-size="16.9" textLength="103.2" lengthAdjust="spacingAndGlyphs" transform="rotate(-90 20 671.3)">Power (dBm)</text>
</svg></body></html>
